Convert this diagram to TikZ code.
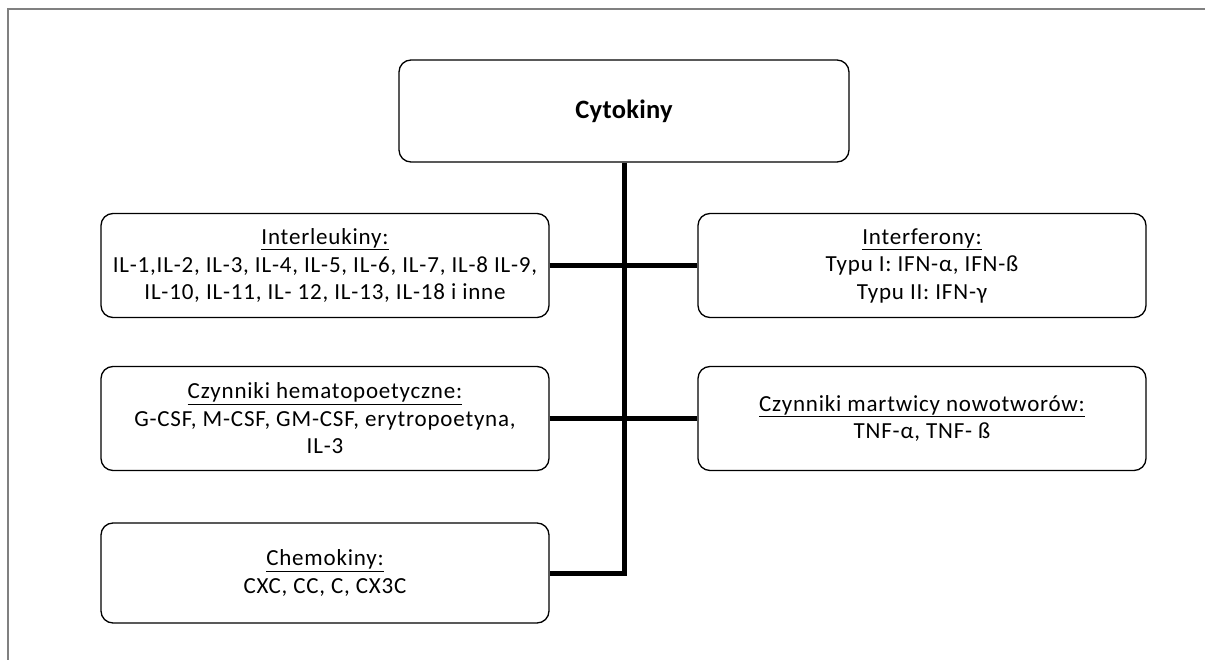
\documentclass[tikz,border=0pt]{standalone}
\usepackage{fontspec}
\setmainfont{Carlito}[LetterSpace=3.5]
\newfontfamily\titlefont{Carlito}[LetterSpace=1]
\begin{document}
\begin{tikzpicture}[x=1pt,y=-1pt,
  box/.style={draw, line width=1.3pt, rounded corners=12pt, minimum width=448pt,
    minimum height=104pt, align=center, inner sep=0pt,
    font=\fontsize{23}{27.5}\selectfont},
  conn/.style={line width=5pt},
  frameline/.style={draw=black!50, line width=2pt}]
\useasboundingbox (0,0) rectangle (1205,660);
\draw[frameline] (8,660) -- (8,9) -- (1205,9);

\node[box, minimum width=450pt, minimum height=102pt,
  font=\titlefont\fontsize{26.5}{30}\selectfont\bfseries] (cyt) at (624,111) {Cytokiny};
\node[box] (il) at (325,265.5) {\underline{Interleukiny:}\\
  IL-1,IL-2, IL-3, IL-4, IL-5, IL-6, IL-7, IL-8 IL-9,\\
  IL-10, IL-11, IL- 12, IL-13, IL-18 i inne};
\node[box] (ifn) at (922,265.5) {\underline{Interferony:}\\
  Typu I: IFN-α, IFN-ß\\
  Typu II: IFN-γ};
\node[box] (hem) at (325,418.5) {\underline{Czynniki hematopoetyczne:}\\
  G-CSF, M-CSF, GM-CSF, erytropoetyna,\\
  IL-3};
\node[box] (tnf) at (922,418.5) {\underline{Czynniki martwicy nowotworów:}\\
  TNF-α, TNF- ß};
\node[box, minimum height=100pt] (che) at (325,573) {\underline{Chemokiny:}\\
  CXC, CC, C, CX3C};

\draw[conn] (cyt.south) |- (che.east);
\draw[conn] (il.east) -- (ifn.west);
\draw[conn] (hem.east) -- (tnf.west);
\end{tikzpicture}
\end{document}
